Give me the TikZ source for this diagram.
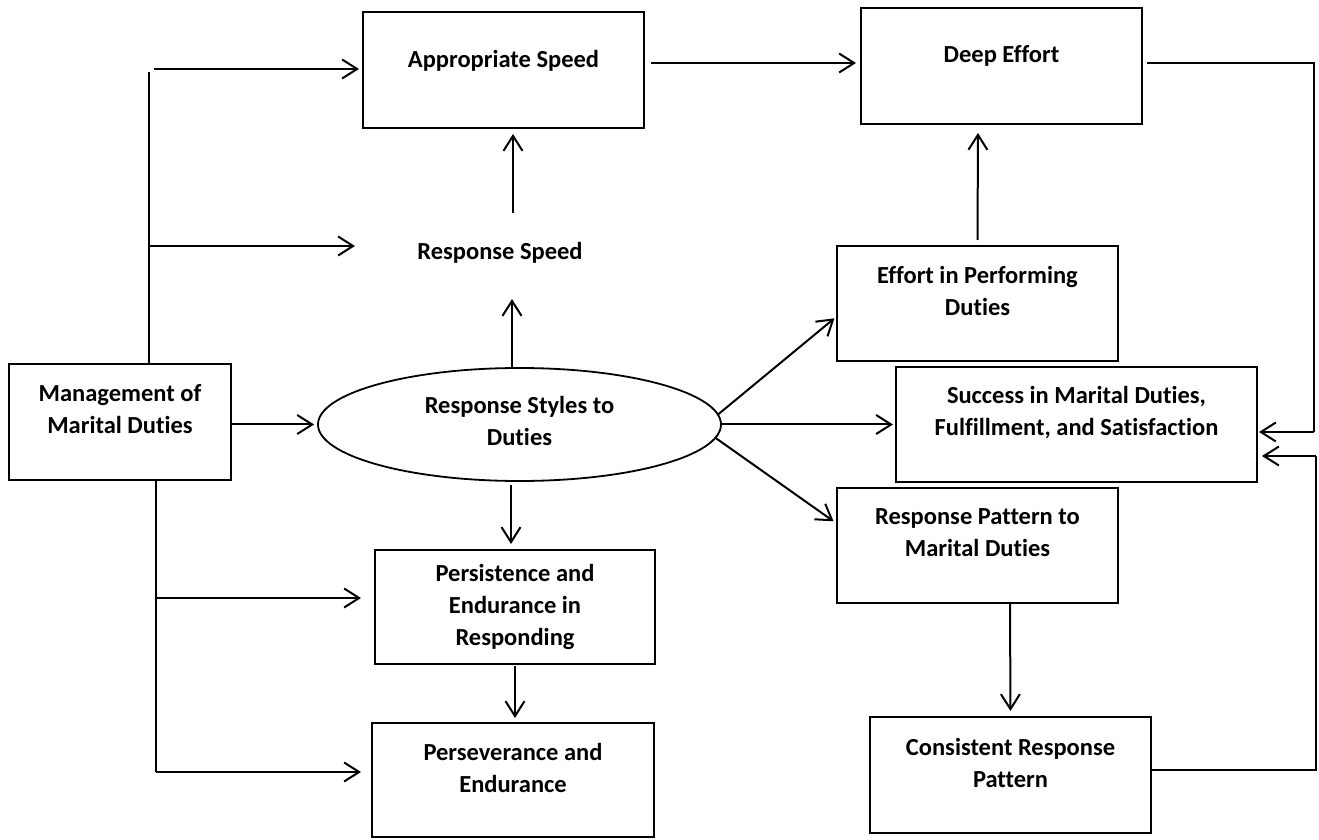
\documentclass[tikz,border=0pt]{standalone}
\usepackage{fontspec}
\setmainfont{Carlito}[Ligatures=NoCommon]
\usetikzlibrary{arrows.meta,shapes.geometric}
\tikzset{
  box/.style={draw=drawColor,line width=2pt,minimum width=281pt,minimum height=116pt,inner sep=0pt},
  lbl/.style={text=drawColor,anchor=base,align=center,inner sep=0pt,outer sep=0pt,font=\fontsize{24.5}{32}\selectfont\bfseries},
  arr/.style={draw=drawColor,line width=2pt,-{Straight Barb[length=15pt,width=19pt]},shorten >=3pt},
  rail/.style={draw=drawColor,line width=1.3pt,line join=miter},
}
\begin{document}
\begin{tikzpicture}[x=1pt,y=1pt]
\definecolor{fillColor}{RGB}{255,255,255}
\definecolor{drawColor}{RGB}{0,0,0}
\path[use as bounding box,fill=fillColor] (0,0) rectangle (1319,839);

% boxes
\node[box,minimum width=222pt] (mgmt) at (120,417) {};
\node[box] (appspeed) at (503.5,769) {};
\node[box] (deepeff) at (1001.5,773) {};
\node[box,minimum height=115pt] (effort) at (977.5,535.5) {};
\node[box,minimum width=361pt,minimum height=115pt] (success) at (1076.5,414.5) {};
\node[box,minimum height=115pt] (rpattern) at (977.5,293.5) {};
\node[box] (consist) at (1010.5,64) {};
\node[box,minimum width=280pt,minimum height=114pt] (persist) at (515,232) {};
\node[box,minimum width=282pt,minimum height=114pt] (persev) at (513,59) {};
\node[ellipse,draw=drawColor,line width=1.8pt,minimum width=403pt,minimum height=113pt,inner sep=0pt] (styles) at (519.5,414.5) {};
\node[lbl,anchor=center,minimum height=80pt] (rspeed) at (500,586) {Response Speed};

% texts (base = last line)
\node[lbl] (mgmt-t) at (120,405.5) {Management of\\Marital Duties};
\node[lbl] (appspeed-t) at (503.5,771.5) {Appropriate Speed};
\node[lbl] (deepeff-t) at (1001.5,776.5) {Deep Effort};
\node[lbl] (effort-t) at (977.5,523.5) {Effort in Performing\\Duties};
\node[lbl] (success-t) at (1076.5,403.5) {Success in Marital Duties,\\Fulfillment, and Satisfaction};
\node[lbl] (rpattern-t) at (977.5,282.5) {Response Pattern to\\Marital Duties};
\node[lbl] (consist-t) at (1010.5,51.5) {Consistent Response\\Pattern};
\node[lbl] (persist-t) at (515,193.5) {Persistence and\\Endurance in\\Responding};
\node[lbl] (persev-t) at (513,46.5) {Perseverance and\\Endurance};
\node[lbl] (styles-t) at (519.5,393.5) {Response Styles to\\Duties};

% spine from management, upwards
\coordinate (upTop) at (149,767);
\coordinate (upApp) at (154,770);
\coordinate (upRsp) at (149,593);
\coordinate (rspTip) at (355,593);
\draw[rail] ([xshift=29pt]mgmt.north) -- (upTop);
\draw[arr] (upApp) -- (upApp -| appspeed.west);
\draw[arr,shorten >=0pt] (upRsp) -- (rspTip);

% spine from management, downwards
\coordinate (dnBot) at (156,67);
\coordinate (dnPer) at (156,241);
\draw[rail] ([xshift=36pt]mgmt.south) -- (dnBot);
\draw[arr,shorten >=13pt] (dnPer) -- (dnPer -| persist.west);
\draw[arr,shorten >=10pt] (dnBot) -- (dnBot -| persev.west);

% main arrows
\draw[arr] (mgmt.east |- styles.west) -- (styles.west);
\draw[arr,shorten >=6pt] ([xshift=-7.5pt]styles.north) -- ([xshift=12pt]rspeed.south);
\draw[arr,shorten >=5pt] ([xshift=13pt]rspeed.north) -- ([xshift=9.5pt]appspeed.south);
\draw[arr,shorten <=6pt,shorten >=4pt] ([yshift=7pt]appspeed.east) -- ([yshift=3pt]deepeff.west);
\draw[arr,shorten <=5pt,shorten >=8pt] (effort.north) -- ([xshift=-23.5pt]deepeff.south);
\draw[arr,shorten >=2pt] (styles.3) -- ([yshift=-13.5pt]effort.west);
\draw[arr,shorten >=2pt] (styles.east) -- (success.west);
\draw[arr] (styles.-4) -- ([yshift=22.5pt]rpattern.west);
\draw[arr,shorten >=5pt] ([xshift=32.5pt]rpattern.south) -- (consist.north);
\draw[arr,shorten <=3pt,shorten >=5pt] ([xshift=-8.5pt]styles.south) -- ([xshift=-4pt]persist.north);
\draw[arr,shorten <=1pt,shorten >=4pt] (persist.south) -- ([xshift=2pt]persev.north);

% feedback into success
\coordinate (fbTopR) at (1314,776);
\coordinate (fbTopE) at (1314,407);
\coordinate (fbBotR) at (1316,69);
\coordinate (fbBotE) at (1316,383);
\draw[rail] ([xshift=4pt,yshift=3pt]deepeff.east) -- (fbTopR) -- (fbTopE);
\draw[arr,shorten >=1pt] (fbTopE) -- (fbTopE -| success.east);
\draw[rail] ([yshift=5pt]consist.east) -- (fbBotR) -- (fbBotE);
\draw[arr,shorten >=4pt] (fbBotE) -- (fbBotE -| success.east);
\end{tikzpicture}
\end{document}
